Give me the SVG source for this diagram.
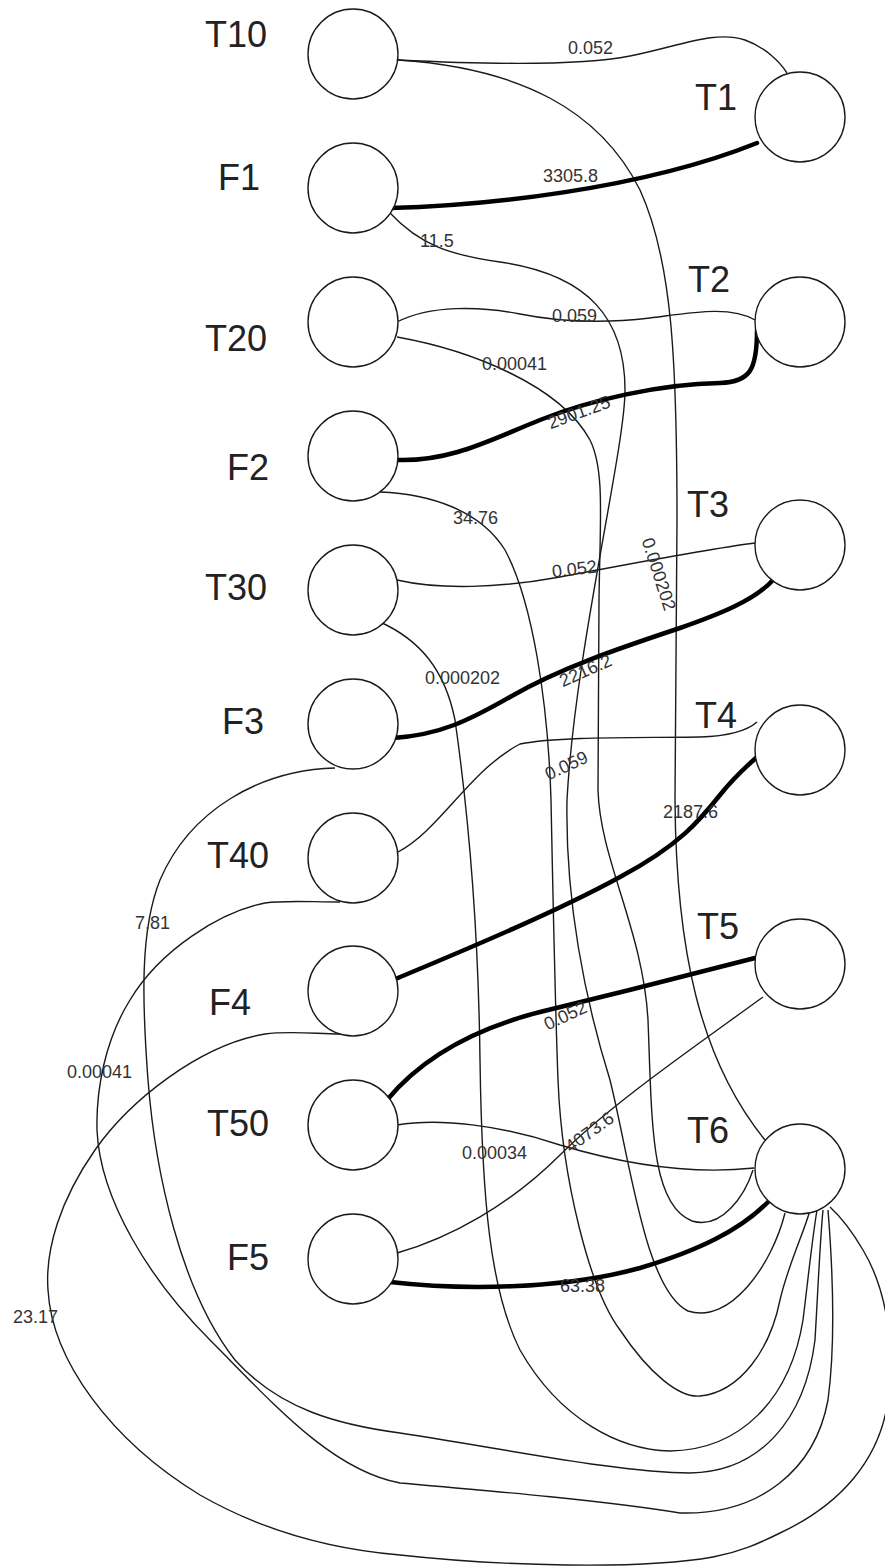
<svg xmlns="http://www.w3.org/2000/svg" width="885" height="1567" viewBox="0 0 885 1567">
  <style>
    .edge { fill: none; stroke: #1a1a1a; stroke-width: 1.4; }
    .heavy { fill: none; stroke: #000; stroke-width: 4.5; stroke-linecap: round; }
    .node circle { fill: #fff; stroke: #1a1a1a; stroke-width: 1.4; }
    .name { font-family: "Liberation Sans", Arial, sans-serif; font-size: 36px; fill: #222; }
    .w { font-family: "Liberation Sans", Arial, sans-serif; font-size: 18px; fill: #333; }
  </style>
  <rect width="885" height="1567" fill="#fff"/>

  <g id="connectors">
    <!-- T10 -->
    <path class="edge" d="M398,60 C480,64 580,66 630,56 C680,46 715,30 745,40 C765,47 780,62 787,73"/>
    <path class="edge" d="M398,60 C520,68 600,110 640,190 C672,260 677,360 677,520 L675,800 C676,950 700,1060 765,1140"/>
    <!-- F1 -->
    <path class="heavy" d="M390,208 C480,206 640,190 757,143"/>
    <path class="edge" d="M390,213 C420,245 450,255 500,262 C590,275 625,320 625,390 C625,450 575,650 567,800 C565,900 585,1000 610,1080 C630,1160 645,1290 688,1311 C730,1325 772,1265 785,1213"/>
    <!-- T20 -->
    <path class="edge" d="M397,322 C430,305 480,306 520,314 C560,322 600,324 650,318 C690,313 730,305 755,320"/>
    <path class="edge" d="M397,337 C470,350 560,385 590,440 C605,470 600,520 599,600 L598,790 C600,860 643,930 648,1020 C652,1120 650,1205 692,1221 C722,1230 745,1195 753,1170"/>
    <!-- F2 -->
    <path class="heavy" d="M396,460 C450,462 490,440 540,420 C590,400 660,384 720,383 C750,382 757,370 757,330"/>
    <path class="edge" d="M380,492 C430,494 480,510 505,550 C532,600 548,700 551,800 C553,900 555,1000 558,1080 C562,1180 590,1290 620,1330 C650,1375 680,1398 700,1396 C740,1392 770,1350 780,1300 C788,1265 805,1230 810,1210"/>
    <!-- T30 -->
    <path class="edge" d="M397,580 C440,590 500,588 560,577 C620,566 700,550 755,543"/>
    <path class="edge" d="M380,622 C420,640 445,670 455,720 C465,790 478,900 480,1060 C482,1200 490,1290 520,1350 C560,1420 620,1450 670,1451 C740,1450 790,1400 803,1320 C808,1280 812,1240 817,1210"/>
    <!-- F3 -->
    <path class="heavy" d="M393,738 C440,735 470,720 510,697 C560,668 620,648 680,628 C720,614 755,600 773,580"/>
    <path class="edge" d="M335,768 C260,770 190,810 160,880 C140,930 142,1000 148,1080 C155,1170 180,1290 235,1360 C280,1410 340,1425 400,1433 C500,1448 620,1473 690,1473 C760,1472 805,1420 815,1340 C818,1290 820,1240 823,1210"/>
    <!-- T40 -->
    <path class="edge" d="M398,852 C440,830 470,770 520,744 C560,736 640,738 700,737 C730,736 748,730 757,722"/>
    <path class="edge" d="M340,902 C310,902 285,900 265,903 C220,912 160,950 130,1000 C105,1040 96,1090 97,1130 C100,1200 150,1280 210,1340 C270,1400 330,1470 400,1483 C480,1490 600,1500 680,1513 C760,1515 815,1470 828,1400 C836,1340 832,1260 828,1210"/>
    <!-- F4 -->
    <path class="heavy" d="M393,980 C470,948 560,910 620,877 C680,845 700,820 720,795 C735,776 748,765 757,757"/>
    <path class="edge" d="M340,1034 C305,1033 285,1031 265,1034 C200,1045 130,1100 95,1150 C60,1200 45,1250 48,1290 C52,1360 110,1440 200,1495 C270,1535 340,1550 400,1555 C500,1566 640,1570 713,1557 C740,1552 760,1543 780,1533 C840,1505 880,1460 888,1400 C896,1340 884,1285 863,1250 C853,1233 842,1218 830,1207"/>
    <!-- T50 -->
    <path class="heavy" d="M387,1100 C420,1060 470,1030 540,1012 C610,995 690,975 755,958"/>
    <path class="edge" d="M397,1125 C440,1118 500,1125 560,1145 C620,1163 690,1175 754,1168"/>
    <!-- F5 -->
    <path class="edge" d="M397,1253 C450,1238 510,1205 560,1155 C610,1105 690,1050 763,997"/>
    <path class="heavy" d="M390,1282 C460,1290 560,1290 640,1268 C700,1250 740,1230 768,1202"/>

    <!-- weights -->
    <text class="w" x="568" y="54">0.052</text>
    <text class="w" x="543" y="182">3305.8</text>
    <text class="w" x="420" y="247">11.5</text>
    <text class="w" x="552" y="322">0.059</text>
    <text class="w" x="482" y="370">0.00041</text>
    <text class="w" text-anchor="middle" transform="translate(581,418) rotate(-20)">2901.25</text>
    <text class="w" x="453" y="524">34.76</text>
    <text class="w" text-anchor="middle" transform="translate(575,575) rotate(-7)">0.052</text>
    <text class="w" text-anchor="middle" transform="translate(653,576) rotate(72)">0.000202</text>
    <text class="w" x="425" y="684">0.000202</text>
    <text class="w" text-anchor="middle" transform="translate(588,676) rotate(-24)">2216.2</text>
    <text class="w" text-anchor="middle" transform="translate(569,771) rotate(-25)">0.059</text>
    <text class="w" x="663" y="818">2187.6</text>
    <text class="w" x="135" y="929">7.81</text>
    <text class="w" x="67" y="1078">0.00041</text>
    <text class="w" text-anchor="middle" transform="translate(568,1021) rotate(-25)">0.052</text>
    <text class="w" x="462" y="1159">0.00034</text>
    <text class="w" text-anchor="middle" transform="translate(593,1137) rotate(-36)">4073.6</text>
    <text class="w" x="560" y="1292">63.38</text>
    <text class="w" x="13" y="1323">23.17</text>
  </g>

  <g id="T10" class="node"><circle cx="353" cy="54" r="45"/><text class="name" x="205" y="47">T10</text></g>
  <g id="F1" class="node"><circle cx="353" cy="188" r="45"/><text class="name" x="218" y="190">F1</text></g>
  <g id="T20" class="node"><circle cx="353" cy="322" r="45"/><text class="name" x="205" y="351">T20</text></g>
  <g id="F2" class="node"><circle cx="353" cy="456" r="45"/><text class="name" x="227" y="480">F2</text></g>
  <g id="T30" class="node"><circle cx="353" cy="590" r="45"/><text class="name" x="205" y="600">T30</text></g>
  <g id="F3" class="node"><circle cx="353" cy="724" r="45"/><text class="name" x="222" y="734">F3</text></g>
  <g id="T40" class="node"><circle cx="353" cy="858" r="45"/><text class="name" x="207" y="868">T40</text></g>
  <g id="F4" class="node"><circle cx="353" cy="991" r="45"/><text class="name" x="209" y="1015">F4</text></g>
  <g id="T50" class="node"><circle cx="353" cy="1125" r="45"/><text class="name" x="207" y="1136">T50</text></g>
  <g id="F5" class="node"><circle cx="353" cy="1259" r="45"/><text class="name" x="227" y="1270">F5</text></g>

  <g id="T1" class="node"><circle cx="800" cy="117" r="45"/><text class="name" x="695" y="110">T1</text></g>
  <g id="T2" class="node"><circle cx="800" cy="322" r="45"/><text class="name" x="688" y="292">T2</text></g>
  <g id="T3" class="node"><circle cx="800" cy="545" r="45"/><text class="name" x="687" y="517">T3</text></g>
  <g id="T4" class="node"><circle cx="800" cy="750" r="45"/><text class="name" x="695" y="728">T4</text></g>
  <g id="T5" class="node"><circle cx="800" cy="964" r="45"/><text class="name" x="697" y="939">T5</text></g>
  <g id="T6" class="node"><circle cx="800" cy="1169" r="45"/><text class="name" x="687" y="1143">T6</text></g>
</svg>
